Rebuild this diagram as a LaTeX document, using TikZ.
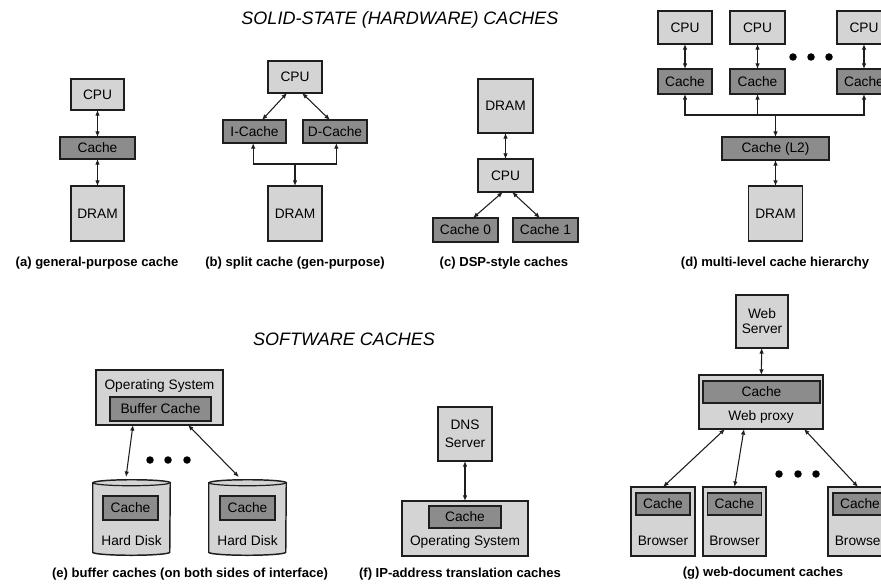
\documentclass[tikz,border=0pt]{standalone}
\usepackage{fontspec}
\setmainfont{Liberation Sans}
\usetikzlibrary{arrows.meta}

\definecolor{boxlight}{HTML}{D4D4D4}
\definecolor{boxdark}{HTML}{8C8C8C}
\definecolor{ink}{HTML}{1E1E1E}

\newcommand\boxfont{\fontsize{10.3}{12}\selectfont}
\newcommand\captionfont{\fontsize{9.8}{12}\selectfont\bfseries}
\newcommand\headfont{\fontsize{13.5}{16}\selectfont\itshape}

\tikzset{
  sz/.style 2 args={minimum width=#1*0.75pt, minimum height=#2*0.75pt},
  base/.style={draw=ink, line width=1.1pt, inner sep=0pt, outer sep=0pt, font=\boxfont},
  light/.style={base, fill=boxlight},
  dark/.style={base, fill=boxdark},
  plain/.style={inner sep=0pt, font=\boxfont},
  captext/.style={inner sep=0pt, font=\captionfont},
  headtext/.style={inner sep=0pt, font=\headfont},
  tip/.tip={Latex[length=4.2pt, width=3.4pt]},
  conn/.style={draw=ink, line width=0.8pt},
  bidir/.style={conn, tip-tip},
  uni/.style={conn, -tip},
  dotmark/.style={fill=black, draw=none, circle, minimum size=7.5*0.75pt, inner sep=0pt},
  disk/.style={draw=none, inner sep=0pt},
  diskbody/.style={draw=ink, fill=boxlight, line width=1.1pt},
}

\begin{document}
\begin{tikzpicture}[x=0.75pt, y=-0.75pt]
\useasboundingbox (0,0) rectangle (881,585);
\clip (0,0) rectangle (881,585);
\fill[white] (0,0) rectangle (881,585);

% ---------------- headings ----------------
\node[headtext] (hw) at (400,20) {SOLID-STATE (HARDWARE) CACHES};
\node[headtext] (sw) at (344,339) {SOFTWARE CACHES};

% ---------------- (a) general-purpose cache ----------------
\node[light, sz={53}{31}] (cpuA) at (97.5,94.5) {CPU};
\node[dark,  sz={75}{22}] (cacheA) at (97.5,148) {Cache};
\node[light, sz={53}{55}] (dramA) at (97.5,213.5) {DRAM};
\draw[bidir] (cpuA) -- (cacheA);
\draw[bidir] (cacheA) -- (dramA);
\node[captext] (capA) at (97,263) {(a) general-purpose cache};

% ---------------- (b) split cache ----------------
\node[light, sz={54}{32}] (cpuB) at (295,77) {CPU};
\node[dark,  sz={63}{23}] (icache) at (254.5,131.5) {I-Cache};
\node[dark,  sz={64}{23}] (dcache) at (335,131.5) {D-Cache};
\node[light, sz={54}{55}] (dramB) at (295,213.5) {DRAM};
\draw[bidir] ([xshift=-6pt]cpuB.south) -- ([xshift=5.6pt]icache.north);
\draw[bidir] ([xshift=5.3pt]cpuB.south) -- ([xshift=-3.8pt]dcache.north);
\coordinate (busB) at (295,164);
\draw[uni] (busB) -| ([xshift=-1pt]icache.south);
\draw[uni] (busB) -| ([xshift=1pt]dcache.south);
\draw[uni] (busB) -- (dramB.north);
\node[captext] (capB) at (295,263) {(b) split cache (gen-purpose)};

% ---------------- (c) DSP-style caches ----------------
\node[light, sz={55}{54}] (dramC) at (505.5,106) {DRAM};
\node[light, sz={55}{33}] (cpuC) at (505.5,175.5) {CPU};
\node[dark,  sz={65}{24}] (cache0) at (465.5,230) {Cache 0};
\node[dark,  sz={65}{24}] (cache1) at (545.5,230) {Cache 1};
\draw[bidir] (dramC) -- (cpuC);
\draw[bidir] ([xshift=-2pt]cpuC.south) -- ([xshift=5.6pt]cache0.north);
\draw[bidir] ([xshift=4.9pt]cpuC.south) -- ([xshift=-4.1pt]cache1.north);
\node[captext] (capC) at (504,263) {(c) DSP-style caches};

% ---------------- (d) multi-level cache hierarchy ----------------
\node[light, sz={54}{33}] (cpuD1) at (685,27.5) {CPU};
\node[light, sz={55}{33}] (cpuD2) at (757.5,27.5) {CPU};
\node[light, sz={54}{33}] (cpuD3) at (864,27.5) {CPU};
\node[dark,  sz={54}{25}] (cacheD1) at (685,81.5) {Cache};
\node[dark,  sz={55}{25}] (cacheD2) at (757.5,81.5) {Cache};
\node[dark,  sz={54}{25}] (cacheD3) at (864,81.5) {Cache};
\draw[bidir] (cpuD1) -- (cacheD1);
\draw[bidir] (cpuD2) -- (cacheD2);
\draw[bidir] (cpuD3) -- (cacheD3);
\node[dotmark] (dD1) at (793,57) {};
\node[dotmark] (dD2) at (811,57) {};
\node[dotmark] (dD3) at (829,57) {};
\node[dark,  sz={107}{23}] (l2) at (775.5,148.5) {Cache (L2)};
\node[light, sz={54}{55}] (dramD) at (775.5,213.5) {DRAM};
\coordinate (busD) at (775.5,115);
\draw[uni] (busD) -| (cacheD1.south);
\draw[uni] (busD) -| (cacheD3.south);
\draw[uni] (cacheD2.south |- busD) -- (cacheD2.south);
\draw[uni] (busD) -- (l2.north);
\draw[bidir] (l2) -- (dramD);
\node[captext] (capD) at (775,263) {(d) multi-level cache hierarchy};

% ---------------- (e) buffer caches ----------------
\node[light, sz={127}{55}] (osE) at (159.5,397.5) {};
\node[plain] (osEt) at (159.5,386) {Operating System};
\node[dark, sz={101}{24}] (bufE) at (160.5,409) {Buffer Cache};

\node[disk, sz={77}{75}] (disk1) at (131.5,517.5) {};
\node[disk, sz={77}{75}] (disk2) at (247.5,517.5) {};
\foreach \d in {disk1,disk2}{
  \path[diskbody] ([yshift=-2.25pt]\d.north west) -- ([yshift=2.25pt]\d.south west)
    arc[start angle=180, end angle=360, x radius=28.875pt, y radius=2.25pt]
    -- ([yshift=-2.25pt]\d.north east)
    arc[start angle=0, end angle=180, x radius=28.875pt, y radius=2.25pt] -- cycle;
  \draw[draw=ink, line width=0.9pt] ([yshift=-2.25pt]\d.north west)
    arc[start angle=180, end angle=360, x radius=28.875pt, y radius=2.25pt];
}
\node[dark, sz={55}{24}] (dcE1) at (130.5,508) {Cache};
\node[plain] (hd1) at (131.5,541) {Hard Disk};
\node[dark, sz={55}{24}] (dcE2) at (247.5,508) {Cache};
\node[plain] (hd2) at (247.5,541) {Hard Disk};

\draw[bidir] ([xshift=-19.9pt]osE.south) -- ([xshift=-4.1pt,yshift=2pt]disk1.north);
\draw[bidir] ([xshift=21.4pt]osE.south) -- ([xshift=-6.4pt,yshift=2pt]disk2.north);
\node[dotmark] (dE1) at (150,460) {};
\node[dotmark] (dE2) at (168,460) {};
\node[dotmark] (dE3) at (187,460) {};
\node[captext] (capE) at (190,574) {(e) buffer caches (on both sides of interface)};

% ---------------- (f) IP-address translation caches ----------------
\node[light, sz={54}{54}, align=center, font=\fontsize{10.3}{13.3}\selectfont] (dns) at (465,434) {DNS\\Server};
\node[light, sz={126}{55}] (osF) at (465,528.5) {};
\node[dark,  sz={72}{22}] (cacheF) at (465,517) {Cache};
\node[plain] (osFt) at (465,542) {Operating System};
\draw[bidir] (dns) -- (osF);
\node[captext] (capF) at (460,574) {(f) IP-address translation caches};

% ---------------- (g) web-document caches ----------------
\node[light, sz={52}{53}, align=center, font=\fontsize{10.3}{11.3}\selectfont] (web) at (762,321.5) {Web\\Server};
\node[light, sz={124}{54}] (proxy) at (761,402) {};
\node[dark,  sz={117}{22}] (cacheP) at (761.5,392) {Cache};
\node[plain] (proxyt) at (761,417) {Web proxy};
\draw[bidir] (web) -- (proxy);

\node[light, sz={64}{69}] (br1) at (663,521.5) {};
\node[light, sz={63}{69}] (br2) at (734.5,521.5) {};
\node[light, sz={64}{69}] (br3) at (860,521.5) {};
\node[dark, sz={54}{22}] (cb1) at (663,504) {Cache};
\node[dark, sz={54}{22}] (cb2) at (734.5,504) {Cache};
\node[dark, sz={54}{22}] (cb3) at (860,504) {Cache};
\node[plain] (bt1) at (663,541) {Browser};
\node[plain] (bt2) at (734.5,541) {Browser};
\node[plain] (bt3) at (860,541) {Browser};

\draw[bidir] ([xshift=-27pt]proxy.south) -- (br1.north);
\draw[bidir] ([xshift=-12.75pt]proxy.south) -- (br2.north);
\draw[bidir] ([xshift=32.25pt]proxy.south) -- ([xshift=-1.5pt]br3.north);
\node[dotmark] (dG1) at (779,474) {};
\node[dotmark] (dG2) at (798,474) {};
\node[dotmark] (dG3) at (816,474) {};
\node[captext] (capG) at (763,573) {(g) web-document caches};
\end{tikzpicture}
\end{document}
